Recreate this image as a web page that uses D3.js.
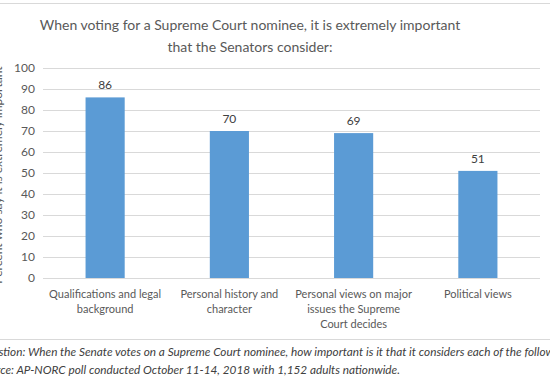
<!DOCTYPE html>
<html>
<head>
<meta charset="utf-8">
<script src="https://cdn.jsdelivr.net/npm/d3@7"></script>
<style>
  body { margin: 0; background: #fff; }
  svg { display: block; }
  text { font-family: Lato, "Open Sans", sans-serif; }
</style>
</head>
<body>
<script>
// chart data
var categories = [
  ["Qualifications and legal", "background"],
  ["Personal history and", "character"],
  ["Personal views on major", "issues the Supreme", "Court decides"],
  ["Political views"]
];
var values = [86, 70, 69, 51];
var yTicks = [0, 10, 20, 30, 40, 50, 60, 70, 80, 90, 100];
var titleLines = ["When voting for a Supreme Court nominee, it is extremely important",
                  "that the Senators consider:"];
var yTitle = "Percent who say it is extremely important";
var notes = ["Question: When the Senate votes on a Supreme Court nominee, how important is it that it considers each of the following?",
             "Source: AP-NORC poll conducted October 11-14, 2018 with 1,152 adults nationwide."];

var width = 550, height = 383;
var plotLeft = 43, plotRight = 540, plotTop = 68, plotBottom = 278;

var svg = d3.select("body").append("svg")
  .attr("width", width)
  .attr("height", height);

// frame lines
svg.append("line").attr("x1", 0).attr("x2", width).attr("y1", 3.5).attr("y2", 3.5)
  .attr("stroke", "#d9d9d9");
svg.append("line").attr("x1", 0).attr("x2", width).attr("y1", 339.5).attr("y2", 339.5)
  .attr("stroke", "#d9d9d9");

var x = d3.scaleBand()
  .domain(d3.range(values.length))
  .range([plotLeft, plotRight])
  .paddingInner(0.685)
  .paddingOuter(0.3425);

var y = d3.scaleLinear().domain([0, 100]).range([plotBottom, plotTop]);

// gridlines + tick labels
var yAxis = d3.axisLeft(y).tickValues(yTicks).tickSize(-(plotRight - plotLeft)).tickPadding(8);
var gy = svg.append("g").attr("transform", "translate(" + plotLeft + ",0)").call(yAxis);
gy.select(".domain").remove();
gy.selectAll(".tick line").attr("stroke", "#d9d9d9").attr("shape-rendering", "crispEdges");
gy.selectAll(".tick text").attr("fill", "#595959").style("font-size", "12px")
  .style("font-family", "Lato, sans-serif");

// bars
svg.append("g").selectAll("rect")
  .data(values)
  .enter().append("rect")
  .attr("x", function(d, i) { return x(i); })
  .attr("y", function(d) { return y(d); })
  .attr("width", x.bandwidth())
  .attr("height", function(d) { return y(0) - y(d); })
  .attr("fill", "#5b9bd5");

// value labels
svg.append("g").selectAll("text")
  .data(values)
  .enter().append("text")
  .attr("x", function(d, i) { return x(i) + x.bandwidth() / 2; })
  .attr("y", function(d) { return y(d) - 8; })
  .attr("text-anchor", "middle")
  .attr("fill", "#404040")
  .style("font-size", "12px")
  .text(function(d) { return d; });

// category labels
var cat = svg.append("g").selectAll("text")
  .data(categories)
  .enter().append("text")
  .attr("text-anchor", "middle")
  .attr("fill", "#595959")
  .style("font-size", "11px");
cat.selectAll("tspan")
  .data(function(d, i) { return d.map(function(s) { return {s: s, i: i}; }); })
  .enter().append("tspan")
  .attr("x", function(d) { return x(d.i) + x.bandwidth() / 2; })
  .attr("y", function(d, j) { return 298 + j * 15; })
  .text(function(d) { return d.s; });

// title
svg.append("g").selectAll("text")
  .data(titleLines)
  .enter().append("text")
  .attr("x", 250)
  .attr("y", function(d, i) { return 30 + i * 22; })
  .attr("text-anchor", "middle")
  .attr("fill", "#595959")
  .style("font-size", "14px")
  .text(function(d) { return d; });

// y axis title (clipped at left edge)
svg.append("text")
  .attr("transform", "translate(1.5,175) rotate(-90)")
  .attr("text-anchor", "middle")
  .attr("fill", "#595959")
  .style("font-size", "12px")
  .text(yTitle);

// notes
svg.append("g").selectAll("text")
  .data(notes)
  .enter().append("text")
  .attr("x", -22)
  .attr("y", function(d, i) { return 356 + i * 18; })
  .attr("fill", "#404040")
  .style("font-size", "11.8px")
  .style("font-style", "italic")
  .text(function(d) { return d; });
</script>
</body>
</html>
